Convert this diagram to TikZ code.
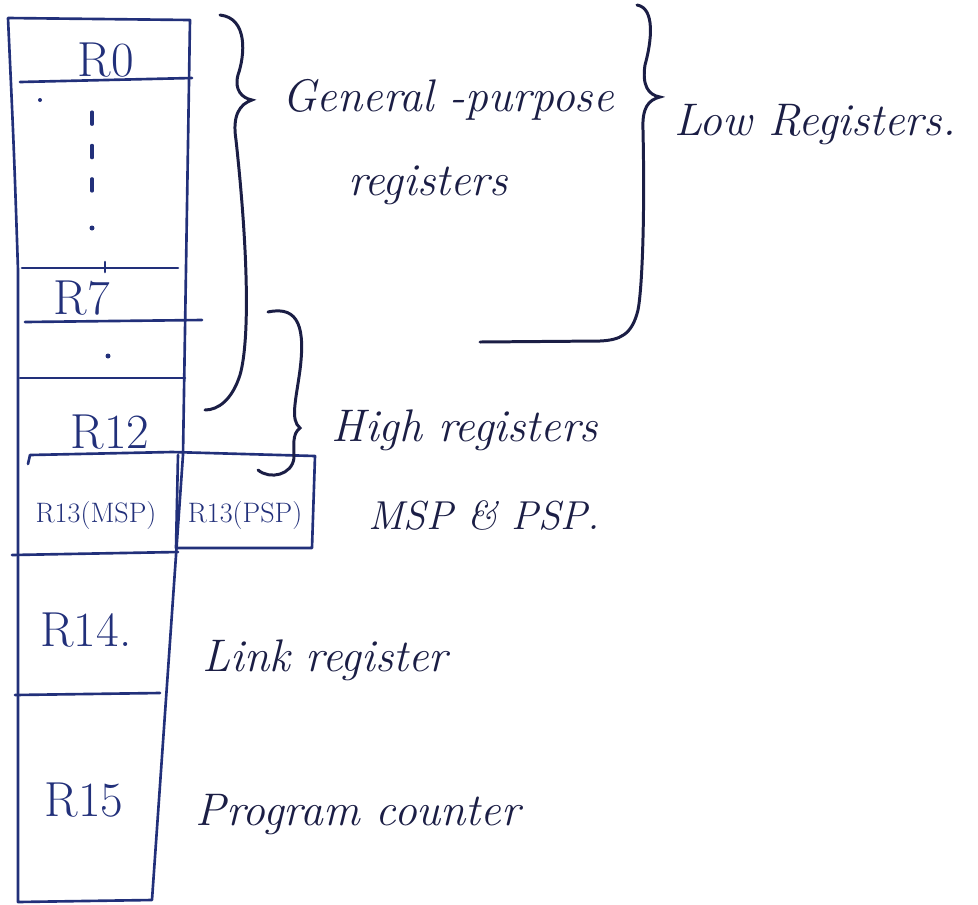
\documentclass[tikz,border=0pt]{standalone}
\usepackage{tikz}
\usetikzlibrary{positioning}
\definecolor{ink}{HTML}{22307A}
\definecolor{inkdark}{HTML}{1B1E45}

\begin{document}
\begin{tikzpicture}[
    x=0.02cm, y=-0.02cm,
    cell/.style={draw=ink, line width=1.5pt, line cap=round, line join=round},
    brace/.style={draw=inkdark, line width=1.7pt, line cap=round},
    reg/.style={text=ink, font=\fontsize{28}{30}\selectfont, inner sep=0pt},
    regsmall/.style={text=ink, font=\fontsize{16}{18}\selectfont, inner sep=0pt},
    note/.style={text=inkdark, font=\fontsize{26}{28}\selectfont\itshape, inner sep=0pt}
  ]
    \useasboundingbox (0,0) rectangle (978,904);

    % register column
    \draw[cell] (8,18) -- (190,20) -- (183,455) -- (152,900) -- (18,902) -- (18,270) .. controls (14,150) .. (8,18);
    \draw[cell] (20,82) -- (192,78);
    \draw[cell] (22,268) -- (178,268);
    \draw[cell] (25,322) -- (202,320);
    \draw[cell] (20,378) -- (185,378);
    \draw[cell] (28,464) -- (30,455) -- (172,452) -- (315,456) -- (312,548) -- (176,548) -- (178,455);
    \draw[cell] (12,555) -- (178,552);
    \draw[cell] (15,695) -- (160,693);

    % skipped registers
    \draw[cell, line width=1.8pt, dash pattern=on 7pt off 12pt] (92,112) -- (92,205);
    \fill[ink] (92,228) circle (2.5);
    \fill[ink] (40,100) circle (2);
    \draw[cell] (105,262) -- (105,272);
    \fill[ink] (108,356) circle (2.5);

    \node[reg] (r0) at (106,60) {R0};
    \node[reg] (r7) at (82,298) {R7};
    \node[reg] (r12) at (110,432) {R12};
    \node[regsmall] (r13msp) at (96,515) {R13(MSP)};
    \node[regsmall] (r13psp) at (245,515) {R13(PSP)};
    \node[reg] (r14) at (86,630) {R14.};
    \node[reg] (r15) at (84,800) {R15};

    % braces
    \draw[brace] (220,15) .. controls (248,18) and (245,55) .. (238,75) .. controls (234,90) and (242,98) .. (252,100)
      .. controls (240,104) and (232,115) .. (236,140) .. controls (248,250) and (250,340) .. (240,375)
      .. controls (232,400) and (218,410) .. (205,410);
    \draw[brace] (268,312) .. controls (300,305) and (305,330) .. (300,370) .. controls (296,400) and (290,420) .. (300,428)
      .. controls (292,434) and (294,445) .. (294,458) .. controls (292,475) and (270,480) .. (258,470);
    \draw[brace] (637,5) .. controls (655,8) and (652,40) .. (645,65) .. controls (642,85) and (648,95) .. (660,97)
      .. controls (648,100) and (642,108) .. (643,130) .. controls (645,220) and (642,290) .. (638,310)
      .. controls (632,335) and (620,340) .. (600,341) -- (480,342);

    % notes
    \node[note] (gp) at (448,100) {General -purpose};
    \node[note, below=0.9cm of gp, xshift=-0.4cm] (gpregs) {registers};
    \node[note] (low) at (815,125) {Low Registers.};
    \node[note] (high) at (465,430) {High registers};
    \node[note, font=\fontsize{23}{25}\selectfont\itshape] (msppsp) at (484,515) {MSP \& PSP.};
    \node[note] (link) at (325,660) {Link register};
    \node[note] (pc) at (358,815) {Program counter};
  \end{tikzpicture}
\end{document}
